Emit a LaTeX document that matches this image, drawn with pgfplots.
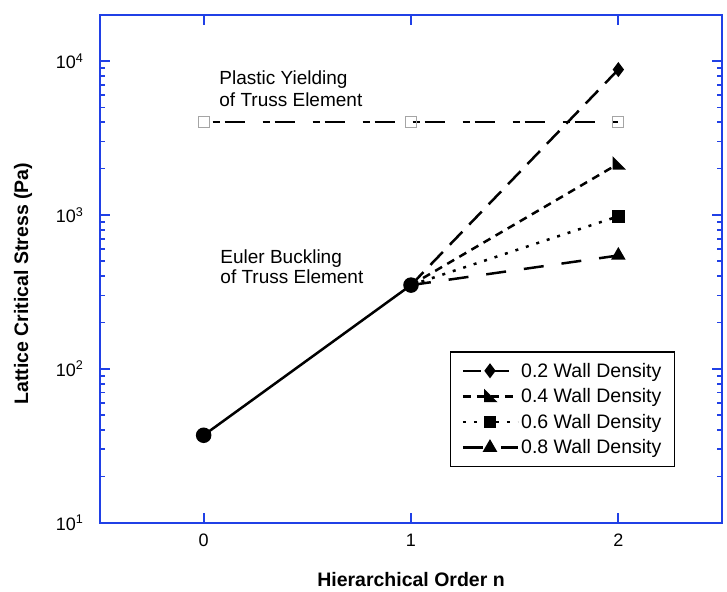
\documentclass[border=0pt]{standalone}
\usepackage{fontspec}
\setmainfont{Liberation Sans}
\usepackage{pgfplots}
\pgfplotsset{compat=1.18}
\definecolor{axisblue}{RGB}{32,64,230}
\definecolor{markgray}{RGB}{165,165,165}
% right-angled triangle mark (corner at lower left)
\pgfdeclareplotmark{cornertri}{%
  \pgfpathmoveto{\pgfqpoint{-\pgfplotmarksize}{\pgfplotmarksize}}%
  \pgfpathlineto{\pgfqpoint{-\pgfplotmarksize}{-\pgfplotmarksize}}%
  \pgfpathlineto{\pgfqpoint{\pgfplotmarksize}{-\pgfplotmarksize}}%
  \pgfpathclose\pgfusepathqfillstroke}
\newcommand{\txtfont}{\fontsize{19bp}{22bp}\selectfont}
\newcommand{\legfont}{\fontsize{19.5bp}{22bp}\selectfont}
\newcommand{\lblfont}{\bfseries\fontsize{19.5bp}{23bp}\selectfont}
\begin{document}
\begin{tikzpicture}
\begin{axis}[
  name=ax,
  scale only axis, width=622bp, height=508bp,
  xmin=-0.5, xmax=2.5,
  ymode=log, log basis y=10, ymin=10, ymax=2e4,
  xtick={0,1,2}, ytick={10,100,1000,10000},
  minor ytick={20,30,40,50,60,70,80,90,200,300,400,500,600,700,800,900,
    2000,3000,4000,5000,6000,7000,8000,9000,20000},
  axis line style={axisblue, line width=2bp},
  tick align=inside,
  major tick length=10bp, minor tick length=5bp,
  major tick style={axisblue, line width=2bp},
  minor tick style={axisblue, line width=1.6bp},
  tick label style={font=\fontsize{18bp}{21bp}\selectfont},
  /pgf/number format/assume math mode=true,
  yticklabel={\pgfmathtruncatemacro{\ex}{round(\tick)}10\textsuperscript{\ex}},
  xticklabel style={yshift=-8bp},
  yticklabel style={xshift=-13bp},
  xlabel={Hierarchical Order n},
  ylabel={Lattice Critical Stress (Pa)},
  xlabel style={font=\lblfont, yshift=-19bp},
  ylabel style={font=\lblfont, yshift=17bp, xshift=-15bp},
  legend style={at={(0.9244,0.1096)}, anchor=south east, draw=black,
    line width=1.2bp, font=\legfont, inner xsep=11bp, inner ysep=9bp,
    row sep=6bp},
  legend cell align=left,
  legend image code/.code={%
    \draw[mark repeat=2, mark phase=2] plot coordinates {(0bp,0bp) (27bp,0bp) (55bp,0bp)};},
]
% Euler buckling of the truss element
\addplot[black, line width=2.5bp, mark=*, mark size=6.5bp, forget plot]
  coordinates {(0,37) (1,350)};
% plastic yielding of the truss element
\addplot[black, line width=2.2bp, dash pattern=on 7bp off 5bp on 20bp off 18bp,
  dash phase=41bp,
  mark=square, mark size=5.5bp, mark options={solid, draw=markgray, line width=1.2bp},
  forget plot]
  coordinates {(0,4000) (1,4000) (2,4000)};
% second-order lattices by wall density
\addplot[black, line width=2.5bp, dash pattern=on 18bp off 10bp,
  mark=diamond*, mark size=5.5bp, mark indices={2}, mark options={solid}]
  coordinates {(1,350) (2,8800)};
\addlegendentry{0.2 Wall Density}
\addplot[black, line width=2.5bp, dash pattern=on 8bp off 6bp,
  mark=cornertri, mark size=4.5bp, mark indices={2}, mark options={solid}]
  coordinates {(1,350) (2,2150)};
\addlegendentry{0.4 Wall Density}
\addplot[black, line width=2.5bp, dash pattern=on 3bp off 8bp,
  mark=square*, mark size=5bp, mark indices={2}, mark options={solid}]
  coordinates {(1,350) (2,980)};
\addlegendentry{0.6 Wall Density}
\addplot[black, line width=2.5bp, dash pattern=on 20bp off 18bp,
  mark=triangle*, mark size=6bp, mark indices={2}, mark options={solid}]
  coordinates {(1,350) (2,545)};
\addlegendentry{0.8 Wall Density}
\node[anchor=base west, inner sep=0, font=\txtfont] at (axis cs:0.075,7015) {Plastic Yielding};
\node[anchor=base west, inner sep=0, font=\txtfont] at (axis cs:0.075,5070) {of Truss Element};
\node[anchor=base west, inner sep=0, font=\txtfont] at (axis cs:0.08,486) {Euler Buckling};
\node[anchor=base west, inner sep=0, font=\txtfont] at (axis cs:0.08,360) {of Truss Element};
\end{axis}
\path ([xshift=-100bp,yshift=-69.3bp]ax.south west) rectangle ([xshift=5bp,yshift=14.7bp]ax.north east);
\end{tikzpicture}
\end{document}
